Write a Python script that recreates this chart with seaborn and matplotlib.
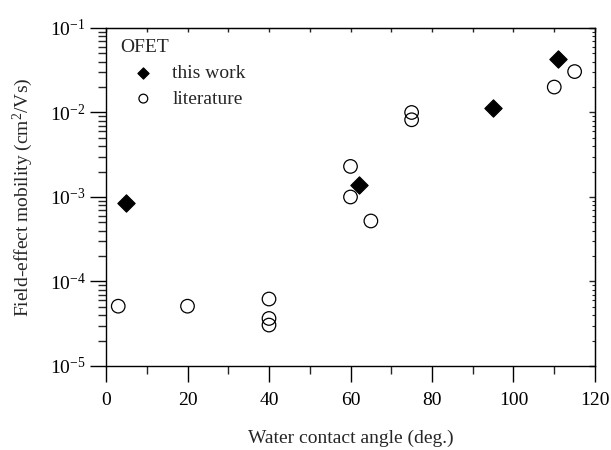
import matplotlib
matplotlib.use("Agg")
import matplotlib.pyplot as plt
import seaborn as sns
import pandas as pd
from matplotlib.ticker import LogLocator, LogFormatterSciNotation, MultipleLocator, NullFormatter

# Field-effect mobility vs. water contact angle
work_angle = [5, 62, 95, 111]
work_mobility = [8.4e-4, 1.4e-3, 1.12e-2, 4.3e-2]

lit_angle = [3, 20, 40, 40, 40, 60, 60, 65, 75, 75, 110, 115]
lit_mobility = [5.1e-5, 5.1e-5, 6.2e-5, 3.65e-5, 3.05e-5,
                2.3e-3, 1.0e-3, 5.2e-4, 1.0e-2, 8.2e-3, 2.0e-2, 3.05e-2]

x_ticks = [0, 20, 40, 60, 80, 100, 120]

sns.set_style("ticks")
plt.rcParams["font.family"] = ["Liberation Serif", "DejaVu Serif"]
plt.rcParams["mathtext.fontset"] = "custom"
plt.rcParams["mathtext.rm"] = "Liberation Serif"
plt.rcParams["mathtext.it"] = "Liberation Serif:italic"
plt.rcParams["mathtext.bf"] = "Liberation Serif:bold"
plt.rcParams["axes.unicode_minus"] = False

FS = 14

work = pd.DataFrame({"angle": work_angle, "mobility": work_mobility})
lit = pd.DataFrame({"angle": lit_angle, "mobility": lit_mobility})

fig = plt.figure(figsize=(6.11, 4.5), dpi=100)
ax = fig.add_axes([0.1735, 0.1867, 0.8003, 0.7511])

sns.scatterplot(data=work, x="angle", y="mobility", ax=ax, marker="D",
                color="black", edgecolor="black", s=78, linewidth=0.8,
                label="this work", zorder=3)
sns.scatterplot(data=lit, x="angle", y="mobility", ax=ax, marker="o",
                facecolor="none", edgecolor="black", s=95, linewidth=0.9,
                label="literature", zorder=2)

ax.set_yscale("log")
ax.set_xlim(0, 120)
ax.set_ylim(1e-5, 1e-1)
ax.set_xticks(x_ticks)
ax.xaxis.set_minor_locator(MultipleLocator(10))
ax.yaxis.set_major_locator(LogLocator(base=10, numticks=10))
ax.yaxis.set_major_formatter(LogFormatterSciNotation())
ax.yaxis.set_minor_locator(LogLocator(base=10, subs=range(2, 10), numticks=10))
ax.yaxis.set_minor_formatter(NullFormatter())

for side in ax.spines.values():
    side.set_linewidth(1.0)
    side.set_color("black")

ax.tick_params(which="major", direction="out", length=11.5, width=1.0,
               labelsize=FS, colors="black")
ax.tick_params(which="minor", direction="out", length=5.5, width=1.0)
ax.tick_params(axis="x", which="major", pad=7)
ax.tick_params(axis="y", which="major", pad=3)
ax.tick_params(top=False, right=False, which="both")

# Inward ticks on the opposite sides
top = ax.secondary_xaxis("top")
top.set_xticks(x_ticks)
top.xaxis.set_minor_locator(MultipleLocator(10))
top.tick_params(which="both", direction="in", length=3, width=1.0, labeltop=False)

right = ax.secondary_yaxis("right")
right.yaxis.set_major_locator(LogLocator(base=10, numticks=10))
right.yaxis.set_minor_locator(LogLocator(base=10, subs=range(2, 10), numticks=10))
right.tick_params(which="major", direction="in", length=4, width=1.0, labelright=False)
right.tick_params(which="minor", direction="in", length=2.5, width=0.8, labelright=False)
right.yaxis.set_minor_formatter(NullFormatter())
right.yaxis.set_major_formatter(NullFormatter())

ax.set_xlabel("Water contact angle (deg.)", fontsize=FS, labelpad=15)
ax.set_ylabel("Field-effect mobility (cm$^2$/Vs)", fontsize=FS, labelpad=11)

leg = ax.legend(title="OFET", loc="upper left", bbox_to_anchor=(0.0127, 0.99),
                frameon=False, fontsize=FS, title_fontsize=FS, markerscale=0.65,
                handlelength=2.4, handletextpad=0.3, borderaxespad=0.0,
                labelspacing=0.42)
leg._legend_box.align = "left"

fig.savefig("out.png", dpi=100)
